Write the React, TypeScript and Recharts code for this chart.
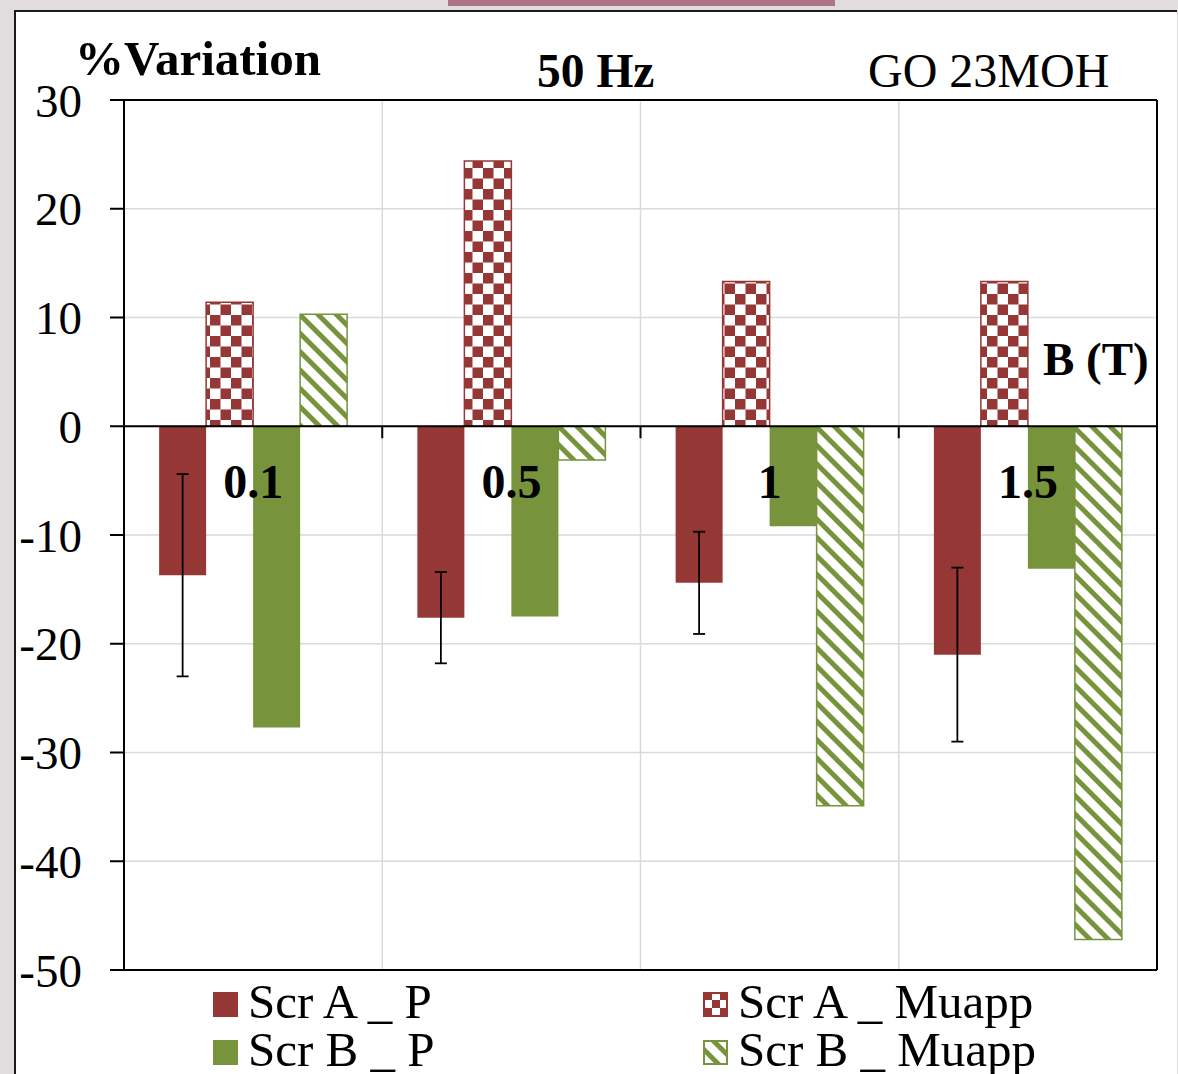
import { BarChart, Bar, XAxis, YAxis, CartesianGrid, ReferenceLine, ErrorBar } from "recharts";

const B_VALUES = ["0.1", "0.5", "1", "1.5"];
const SCR_A_P = [-13.7, -17.6, -14.4, -21.0];
const SCR_A_P_ERR = [9.3, 4.2, 4.7, 8.0];
const SCR_A_MUAPP = [11.4, 24.4, 13.3, 13.3];
const SCR_B_P = [-27.7, -17.5, -9.2, -13.1];
const SCR_B_MUAPP = [10.3, -3.1, -34.9, -47.2];
const Y_TICKS = [30, 20, 10, 0, -10, -20, -30, -40, -50];

const RED = "#953735";
const GREEN = "#77933C";
const FONT = "'Liberation Serif', 'Times New Roman', serif";

const SERIES = [
  { key: "aP", name: "Scr A _ P", fill: RED, stroke: RED },
  { key: "aMu", name: "Scr A _ Muapp", fill: "url(#checkA)", stroke: RED },
  { key: "bP", name: "Scr B _ P", fill: GREEN, stroke: GREEN },
  { key: "bMu", name: "Scr B _ Muapp", fill: "url(#stripeB)", stroke: GREEN },
];

const data = B_VALUES.map((b, i) => ({
  b,
  aP: SCR_A_P[i],
  aPErr: SCR_A_P_ERR[i],
  aMu: SCR_A_MUAPP[i],
  bP: SCR_B_P[i],
  bMu: SCR_B_MUAPP[i],
}));

const W = 1178;
const H = 1074;
const PLOT_TOP = 100;
const PLOT_W = 1033;
const PLOT_H = 870;
const Y_MAX = 30;
const Y_MIN = -50;
const ZERO_Y = PLOT_TOP + (PLOT_H * Y_MAX) / (Y_MAX - Y_MIN);
const BAND = PLOT_W / B_VALUES.length;

function CategoryTick(props: any) {
  const { x, index, payload } = props;
  return (
    <g>
      {index > 0 && (
        <line x1={x - BAND / 2} x2={x - BAND / 2} y1={ZERO_Y} y2={ZERO_Y + 12} stroke="#000" strokeWidth={2} />
      )}
      <text x={x} y={ZERO_Y + 72} textAnchor="middle" fontFamily={FONT} fontSize={48} fontWeight="bold" fill="#000">
        {payload.value}
      </text>
    </g>
  );
}

function Patterns() {
  return (
    <svg width={0} height={0} style={{ position: "absolute" }}>
      <defs>
        <pattern id="checkA" patternUnits="userSpaceOnUse" width={21} height={21}>
          <rect width={21} height={21} fill="#fff" />
          <rect x={0} y={0} width={10.5} height={10.5} fill={RED} />
          <rect x={10.5} y={10.5} width={10.5} height={10.5} fill={RED} />
        </pattern>
        <pattern id="checkLegend" patternUnits="userSpaceOnUse" width={16} height={16}>
          <rect width={16} height={16} fill="#fff" />
          <rect x={0} y={0} width={8} height={8} fill={RED} />
          <rect x={8} y={8} width={8} height={8} fill={RED} />
        </pattern>
        <pattern id="stripeB" patternUnits="userSpaceOnUse" width={13} height={13} patternTransform="rotate(-45)">
          <rect width={13} height={13} fill="#fff" />
          <rect x={0} y={0} width={5} height={13} fill={GREEN} />
        </pattern>
      </defs>
    </svg>
  );
}

const LEGEND_POS = [
  { x: 213, y: 992 },
  { x: 703, y: 992 },
  { x: 213, y: 1040 },
  { x: 703, y: 1040 },
];

export default function App() {
  return (
    <div style={{ position: "absolute", left: 0, top: 0, width: W, height: H, background: "#e1ddde", overflow: "hidden" }}>
      <Patterns />
      <div style={{ position: "absolute", left: 448, top: 0, width: 387, height: 6, background: "#ad7487" }} />
      <div
        style={{
          position: "absolute",
          left: 14,
          top: 10,
          width: 1161,
          height: 1070,
          background: "#fff",
          borderTop: "2px solid #1a1a1a",
          borderLeft: "2px solid #1a1a1a",
        }}
      />
      <div style={{ position: "absolute", left: 0, top: 0 }}>
        <BarChart
          width={W}
          height={H}
          data={data}
          margin={{ top: 99, right: 20, bottom: 74, left: 24 }}
          barCategoryGap="13.6%"
          barGap={0}
        >
          <CartesianGrid
            stroke="#d9d9d9"
            strokeWidth={1.5}
            verticalCoordinatesGenerator={({ offset }: any) =>
              [1, 2, 3].map((i) => offset.left + (i * offset.width) / 4)
            }
          />
          {SERIES.map((s) => (
            <Bar
              key={s.key}
              dataKey={s.key}
              name={s.name}
              fill={s.fill}
              stroke={s.stroke}
              strokeWidth={s.key === "aMu" || s.key === "bMu" ? 1.5 : 0}
              isAnimationActive={false}
            >
              {s.key === "aP" && (
                <ErrorBar dataKey="aPErr" width={6} stroke="#000" strokeWidth={1.8} direction="y" />
              )}
            </Bar>
          ))}
          <ReferenceLine y={0} stroke="#000" strokeWidth={2} />
          <XAxis
            dataKey="b"
            height={30}
            axisLine={{ stroke: "#000", strokeWidth: 2 }}
            tickLine={false}
            interval={0}
            tick={<CategoryTick />}
          />
          <XAxis xAxisId="top" dataKey="b" orientation="top" height={1} tick={false} tickLine={false} axisLine={{ stroke: "#000", strokeWidth: 2 }} />
          <YAxis
            domain={[Y_MIN, Y_MAX]}
            ticks={Y_TICKS}
            width={100}
            tickSize={14}
            tickMargin={28}
            tickLine={{ stroke: "#000", strokeWidth: 2 }}
            axisLine={{ stroke: "#000", strokeWidth: 2 }}
            tick={{ fill: "#000", fontSize: 47, fontFamily: FONT }}
          />
          <YAxis
            yAxisId="right"
            orientation="right"
            domain={[Y_MIN, Y_MAX]}
            width={1}
            tick={false}
            tickLine={false}
            axisLine={{ stroke: "#000", strokeWidth: 2 }}
          />
        </BarChart>
      </div>
      <svg width={W} height={H} style={{ position: "absolute", left: 0, top: 0, pointerEvents: "none" }}>
        <text x={75} y={75} fontFamily={FONT} fontSize={49} fontWeight="bold" fill="#000">%Variation</text>
        <text x={537} y={87} fontFamily={FONT} fontSize={47.5} fontWeight="bold" fill="#000">50 Hz</text>
        <text x={868} y={87} fontFamily={FONT} fontSize={48} fill="#000">GO 23MOH</text>
        <text x={1043} y={375} fontFamily={FONT} fontSize={47} fontWeight="bold" fill="#000">B (T)</text>
        {SERIES.map((s, i) => {
          const p = LEGEND_POS[i];
          const patterned = s.key === "aMu" || s.key === "bMu";
          return (
            <g key={s.key}>
              <rect
                x={p.x + (patterned ? 1 : 0)}
                y={p.y + (patterned ? 1 : 0)}
                width={patterned ? 23 : 25}
                height={patterned ? 23 : 25}
                fill={s.key === "aMu" ? "url(#checkLegend)" : s.fill}
                stroke={patterned ? s.stroke : "none"}
                strokeWidth={2}
              />
              <text x={p.x + 35} y={p.y + 26} fontFamily={FONT} fontSize={49} fill="#000">{s.name}</text>
            </g>
          );
        })}
      </svg>
    </div>
  );
}
